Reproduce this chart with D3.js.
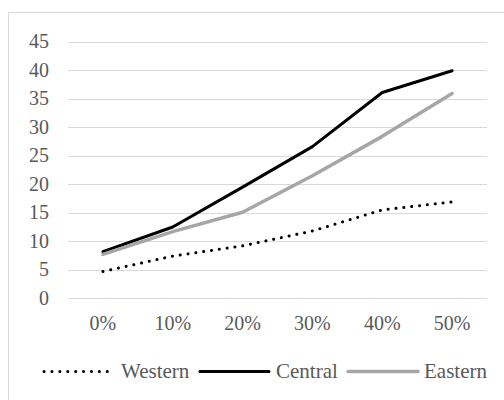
<!DOCTYPE html>
<html>
<head>
<meta charset="utf-8">
<script src="https://cdn.jsdelivr.net/npm/d3@7"></script>
</head>
<body style="margin:0">
<svg id="chart" width="504" height="400" style="display:block"></svg>
<script>
// Categories and series
const categories = ["0%", "10%", "20%", "30%", "40%", "50%"];
const western = [4.7, 7.4, 9.2, 11.8, 15.5, 16.9];
const central = [8.2, 12.5, 19.5, 26.6, 36.1, 39.9];
const eastern = [7.7, 11.7, 15.1, 21.5, 28.4, 35.9];
const yTicks = [0, 5, 10, 15, 20, 25, 30, 35, 40, 45];

const seriesNames = ["Western", "Central", "Eastern"];
const seriesValues = [western, central, eastern];

const styles = {
  Western: { stroke: "#000", width: 3, dash: "0.1,7.8", cap: "round" },
  Central: { stroke: "#000", width: 3, dash: null, cap: "round" },
  Eastern: { stroke: "#a6a6a6", width: 3.5, dash: null, cap: "round" }
};

const FONT = "Liberation Serif";
const TEXT_COLOR = "#595959";

const svg = d3.select("#chart");

// Outer chart frame
svg.append("rect")
  .attr("x", 8.5).attr("y", 12.5)
  .attr("width", 520).attr("height", 420)
  .attr("fill", "none").attr("stroke", "#d9d9d9").attr("stroke-width", 1);

const plot = { left: 68, right: 487, top: 41.7, bottom: 298.3 };

const x = d3.scalePoint().domain(categories)
  .range([plot.left, plot.right]).padding(0.5);
const y = d3.scaleLinear().domain([0, 45]).range([plot.bottom, plot.top]);

// Horizontal gridlines
svg.append("g").selectAll("line").data(yTicks).join("line")
  .attr("x1", plot.left).attr("x2", plot.right)
  .attr("y1", d => Math.round(y(d)) + 0.5).attr("y2", d => Math.round(y(d)) + 0.5)
  .attr("stroke", "#d9d9d9").attr("stroke-width", 1);

// Series lines
const line = d3.line()
  .x((d, i) => x(categories[i]))
  .y(d => y(d));

seriesNames.forEach((name, k) => {
  const s = styles[name];
  svg.append("path")
    .datum(seriesValues[k])
    .attr("d", line)
    .attr("fill", "none")
    .attr("stroke", s.stroke)
    .attr("stroke-width", s.width)
    .attr("stroke-linecap", s.cap)
    .attr("stroke-linejoin", "round")
    .attr("stroke-dasharray", s.dash);
});

// Text layer: tick labels drawn from the scales, plus the legend
const labels = svg.append("g")
  .attr("font-family", FONT)
  .attr("font-size", 20)
  .attr("fill", TEXT_COLOR);

labels.append("g").selectAll("text").data(yTicks).join("text")
  .attr("font-family", FONT)
  .attr("x", plot.left - 19)
  .attr("y", d => y(d))
  .attr("dy", "0.33em")
  .attr("text-anchor", "end")
  .text(d => d3.format("d")(d));

labels.append("g").selectAll("text").data(categories).join("text")
  .attr("font-family", FONT)
  .attr("x", d => x(d))
  .attr("y", plot.bottom + 25)
  .attr("dy", "0.33em")
  .attr("text-anchor", "middle")
  .text(d => d);

// Legend
const legendY = 371.5;
const legendItems = [
  { name: "Western", x0: 44, x1: 113, tx: 121 },
  { name: "Central", x0: 200, x1: 269, tx: 276 },
  { name: "Eastern", x0: 348, x1: 418, tx: 424 }
];
legendItems.forEach(item => {
  const s = styles[item.name];
  svg.append("line")
    .attr("x1", item.x0).attr("x2", item.x1)
    .attr("y1", legendY).attr("y2", legendY)
    .attr("stroke", s.stroke)
    .attr("stroke-width", s.width)
    .attr("stroke-linecap", s.cap)
    .attr("stroke-dasharray", s.dash);
  labels.append("text")
    .attr("font-family", FONT)
    .attr("font-size", 21)
    .attr("x", item.tx).attr("y", legendY)
    .attr("dy", "0.33em")
    .text(item.name);
});
</script>
</body>
</html>
